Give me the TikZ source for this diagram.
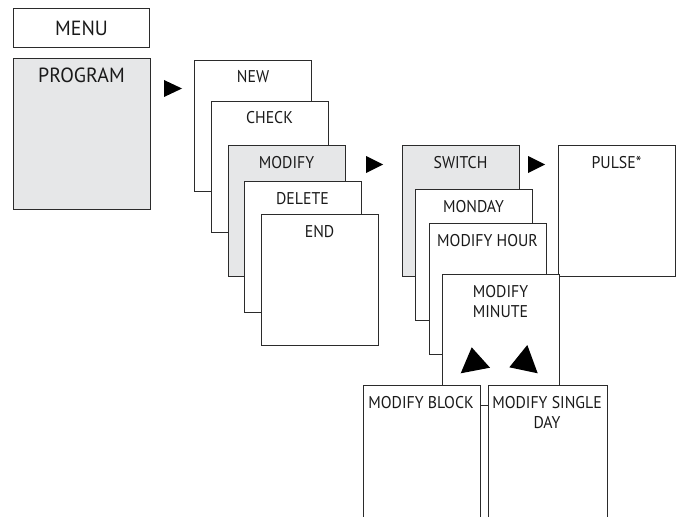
\documentclass[tikz,border=0pt]{standalone}
\usepackage{fontspec}
\setmainfont{PT Sans}
\newfontfamily\lblfont{PT Sans}[FakeStretch=0.93]
\newfontfamily\biglblfont{PT Sans}[FakeStretch=0.97]
\definecolor{ln}{HTML}{2B2B2B}
\definecolor{gr}{HTML}{E6E7E8}
\definecolor{txt}{HTML}{1A1A1A}
\tikzset{
  box/.style={rectangle, draw=ln, line width=1pt, fill=white, minimum width=117pt,
    minimum height=131pt, inner sep=0pt, anchor=north west},
  greybox/.style={fill=gr},
  lbl/.style={anchor=base, inner sep=0pt, text=txt, font=\lblfont\fontsize{17}{20}\selectfont, align=center},
  biglbl/.style={inner sep=0pt, text=txt, font=\biglblfont\fontsize{20.5}{24}\selectfont},
  tri/.style={fill=black, draw=none},
  edge/.style={draw=ln, line width=1pt},
}
\begin{document}
\begin{tikzpicture}[x=1pt,y=-1pt]
\useasboundingbox (0,0) rectangle (679,516);

% MENU and PROGRAM
\node[box, minimum width=136pt, minimum height=39pt] (menu) at (13,8) {};
\node[biglbl] (menu-t) at ([yshift=-0.5pt]menu.center) {MENU};
\node[box, greybox, minimum width=137pt, minimum height=151pt] (prog) at (13,58) {};
\node[biglbl, anchor=base] (prog-t) at (81.5,82.5) {PROGRAM};

% first stack
\node[box] (new) at (194,60) {};
\node[lbl] (new-t) at (253,83) {NEW};
\node[box] (check) at (211,101) {};
\node[lbl] (check-t) at (269.5,124) {CHECK};
\node[box, greybox] (modify) at (228,145) {};
\node[lbl] (modify-t) at (286.5,168) {MODIFY};
\node[box] (delete) at (244,181) {};
\node[lbl] (delete-t) at (302.5,204) {DELETE};
\node[box] (end) at (261,214) {};
\node[lbl] (end-t) at (319.5,237) {END};

% second stack
\node[box, greybox] (switch) at (402,145) {};
\node[lbl] (switch-t) at (460.5,168) {SWITCH};
\node[box] (pulse) at (558,145) {};
\node[lbl] (pulse-t) at (616.5,168) {PULSE*};
\node[box] (monday) at (415,189) {};
\node[lbl] (monday-t) at (473.5,212) {MONDAY};
\node[box] (hour) at (429,223) {};
\node[lbl] (hour-t) at (487.5,246) {MODIFY HOUR};
\node[box] (minute) at (442,274) {};
\node[lbl] (minute-t) at (500.5,317) {MODIFY\\MINUTE};

% bottom boxes (run past the lower edge)
\node[box, draw=none, minimum width=116pt] (block) at (363,385) {};
\draw[edge] (block.south west) |- (block.north east) -- (block.south east);
\node[lbl] (block-t) at (421,408) {MODIFY BLOCK};
\node[box, draw=none, minimum width=118pt] (single) at (488,385) {};
\draw[edge] (single.south west) |- (single.north east) -- (single.south east);
\node[lbl] (single-t) at (547,428) {MODIFY SINGLE\\DAY};

% arrow heads
\fill[tri] (164,80) -- (182,88.5) -- (164,97) -- cycle;
\fill[tri] (366,156) -- (383,164.5) -- (366,173) -- cycle;
\fill[tri] (528,156) -- (545,164.5) -- (528,173) -- cycle;
\fill[tri] (471.7,347.3) -- (460.7,373.3) -- (490,367.7) -- cycle;
\fill[tri] (527.3,345) -- (509.3,367.3) -- (537.7,373.3) -- cycle;
\end{tikzpicture}
\end{document}
